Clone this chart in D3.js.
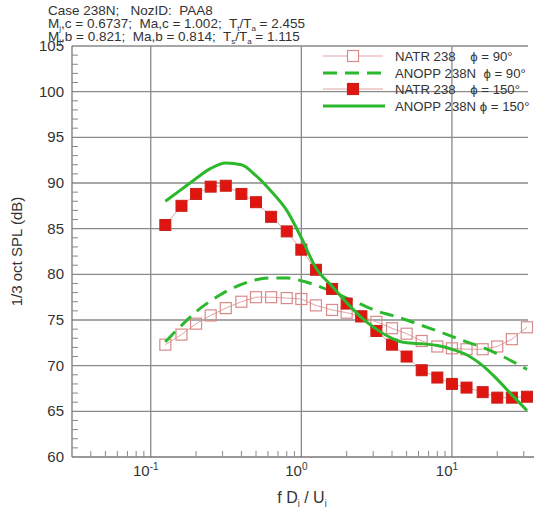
<!DOCTYPE html>
<html>
<head>
<meta charset="utf-8">
<script src="https://cdn.jsdelivr.net/npm/d3@7"></script>
<style>
  body { margin: 0; background: #fff; }
  text { font-family: "Liberation Sans", Arial, sans-serif; fill: #333; }
</style>
</head>
<body>
<div id="chart"></div>
<script>
var w = 539, h = 507;

// 1/3 octave band centres, f Dj / Uj
var freqs = [0.125, 0.16, 0.2, 0.25, 0.315, 0.4, 0.5, 0.63, 0.8, 1.0, 1.25, 1.6, 2.0,
             2.5, 3.15, 4, 5, 6.3, 8, 10, 12.5, 16, 20, 25, 31.5];
var natr90 = [72.3, 73.4, 74.6, 75.5, 76.3, 77.0, 77.5, 77.5, 77.4, 77.3, 76.6, 76.1, 75.8,
              75.4, 74.8, 74.1, 73.5, 72.7, 72.1, 71.9, 71.8, 71.8, 72.1, 72.9, 74.2];
var anopp90 = [72.6, 74.4, 75.9, 77.1, 78.1, 78.9, 79.4, 79.6, 79.6, 79.3, 78.8, 78.1, 77.4,
               76.7, 76.0, 75.5, 75.0, 74.4, 73.8, 73.2, 72.6, 72.0, 71.3, 70.5, 69.6];
var natr150 = [85.4, 87.5, 88.8, 89.6, 89.7, 88.8, 87.9, 86.3, 84.7, 82.7, 80.5, 78.4, 76.8,
               75.4, 73.8, 72.3, 71.0, 69.5, 68.7, 68.0, 67.6, 67.1, 66.5, 66.5, 66.6];
var anopp150 = [88.0, 89.3, 90.5, 91.6, 92.2, 92.0, 90.8, 89.1, 87.0, 84.0, 80.7, 78.7, 76.9,
                75.3, 74.0, 73.0, 72.5, 72.4, 72.2, 71.8, 71.2, 70.0, 68.5, 66.8, 65.1];

var yTicks = [60, 65, 70, 75, 80, 85, 90, 95, 100, 105];
var xDecades = [0.1, 1, 10];
var xDecadeExp = ["-1", "0", "1"];
var legendLabels = ["NATR 238    \u03d5 = 90\u00b0", "ANOPP 238N  \u03d5 = 90\u00b0",
                    "NATR 238    \u03d5 = 150\u00b0", "ANOPP 238N \u03d5 = 150\u00b0"];

var pLeft = 72, pRight = 528, pTop = 46, pBottom = 457;
var green = "#2cb82c", red = "#e0150f", pink = "#e3a3a3";

var x = d3.scaleLog().domain([0.03, 32]).range([pLeft, pRight]);
var y = d3.scaleLinear().domain([60, 105]).range([pBottom, pTop]);

var svg = d3.select("#chart").append("svg")
    .attr("width", w).attr("height", h);

// header
var hdr = svg.append("g").attr("font-size", 13.5);
hdr.append("text").attr("x", 48).attr("y", 15).attr("xml:space", "preserve").text("Case 238N;   NozID:  PAA8");
function subLine(yy, parts) {
  var t = hdr.append("text").attr("x", 48).attr("y", yy).attr("xml:space", "preserve");
  parts.forEach(function(p) {
    var s = t.append("tspan").text(p[0]);
    if (p[1]) s.attr("font-size", 8).attr("dy", 3);
    else s.attr("dy", p[2] || 0);
  });
}
subLine(28, [["M"], ["j", 1], [",c = 0.6737;  Ma,c = 1.002;  T", 0, -3], ["t", 1], ["/T", 0, -3], ["a", 1], [" = 2.455", 0, -3]]);
subLine(41, [["M"], ["j", 1], [",b = 0.821;  Ma,b = 0.814;  T", 0, -3], ["s", 1], ["/T", 0, -3], ["a", 1], [" = 1.115", 0, -3]]);

// grid
var grid = svg.append("g").attr("stroke", "#8a8a8a").attr("stroke-width", 1.3);
grid.selectAll("line.h").data(yTicks.slice(1)).enter().append("line")
    .attr("x1", pLeft).attr("x2", pRight)
    .attr("y1", function(d) { return y(d); }).attr("y2", function(d) { return y(d); });
grid.selectAll("line.v").data(xDecades).enter().append("line")
    .attr("y1", pTop).attr("y2", pBottom)
    .attr("x1", function(d) { return x(d); }).attr("x2", function(d) { return x(d); });

// axes lines
svg.append("line").attr("x1", pLeft).attr("x2", pLeft).attr("y1", pTop).attr("y2", pBottom)
    .attr("stroke", "#777").attr("stroke-width", 1.3);
svg.append("line").attr("x1", pLeft).attr("x2", pRight + 6).attr("y1", pBottom).attr("y2", pBottom)
    .attr("stroke", "#777").attr("stroke-width", 1.3);

// minor ticks
var yMinor = d3.range(61, 105).filter(function(d) { return d % 5 != 0; });
svg.append("g").selectAll("line").data(yMinor).enter().append("line")
    .attr("x1", pLeft).attr("x2", pLeft + 6)
    .attr("y1", function(d) { return y(d); }).attr("y2", function(d) { return y(d); })
    .attr("stroke", "#888");
var xMinor = [];
[0.01, 0.1, 1, 10].forEach(function(dec) {
  for (var k = 2; k <= 9; k++) { var v = k * dec; if (v > 0.03 && v < 32) xMinor.push(v); }
});
svg.append("g").selectAll("line").data(xMinor).enter().append("line")
    .attr("y1", pBottom).attr("y2", pBottom - 6)
    .attr("x1", function(d) { return x(d); }).attr("x2", function(d) { return x(d); })
    .attr("stroke", "#888");

// tick labels
svg.append("g").attr("font-size", 15).attr("text-anchor", "end")
  .selectAll("text").data(yTicks).enter().append("text")
    .attr("x", pLeft - 8).attr("y", function(d) { return y(d) + 5; })
    .text(function(d) { return d; });
var xl = svg.append("g").attr("font-size", 15).selectAll("text").data(xDecades).enter().append("text")
    .attr("x", function(d) { return x(d) - 5; }).attr("y", 476).attr("text-anchor", "middle");
xl.append("tspan").text("10");
xl.append("tspan").attr("font-size", 10).attr("dy", -6).text(function(d, i) { return xDecadeExp[i]; });

// axis titles
svg.append("text").attr("transform", "translate(22," + (pTop + pBottom) / 2 + ") rotate(-90)")
    .attr("text-anchor", "middle").attr("font-size", 15).text("1/3 oct SPL (dB)");
var xt = svg.append("text").attr("x", 302).attr("y", 503).attr("text-anchor", "middle").attr("font-size", 16);
xt.append("tspan").text("f D");
xt.append("tspan").attr("font-size", 9).attr("dy", 3).text("j");
xt.append("tspan").attr("dy", -3).text(" / U");
xt.append("tspan").attr("font-size", 9).attr("dy", 3).text("j");

// series
function pts(vals) { return vals.map(function(v, i) { return [freqs[i], v]; }); }
var line = d3.line().x(function(d) { return x(d[0]); }).y(function(d) { return y(d[1]); });
var curve = d3.line().curve(d3.curveMonotoneX)
    .x(function(d) { return x(d[0]); }).y(function(d) { return y(d[1]); });

svg.append("path").datum(pts(natr90)).attr("d", line)
    .attr("fill", "none").attr("stroke", pink).attr("stroke-width", 1);
svg.append("path").datum(pts(natr150)).attr("d", line)
    .attr("fill", "none").attr("stroke", pink).attr("stroke-width", 1);

var sq = 11;
svg.append("g").selectAll("rect").data(pts(natr90)).enter().append("rect")
    .attr("x", function(d) { return x(d[0]) - sq / 2; }).attr("y", function(d) { return y(d[1]) - sq / 2; })
    .attr("width", sq).attr("height", sq)
    .attr("fill", "none").attr("stroke", "#d98a8a").attr("stroke-width", 1.2);

svg.append("path").datum(pts(anopp90)).attr("d", curve)
    .attr("fill", "none").attr("stroke", green).attr("stroke-width", 3)
    .attr("stroke-dasharray", "14,8");

svg.append("g").selectAll("rect").data(pts(natr150)).enter().append("rect")
    .attr("x", function(d) { return x(d[0]) - sq / 2; }).attr("y", function(d) { return y(d[1]) - sq / 2; })
    .attr("width", sq).attr("height", sq)
    .attr("fill", red).attr("stroke", "#c8201a").attr("stroke-width", 1);

svg.append("path").datum(pts(anopp150)).attr("d", curve)
    .attr("fill", "none").attr("stroke", green).attr("stroke-width", 3);

// legend
var lg = svg.append("g");
var rowY = [56, 73, 89, 106];
legendLabels.forEach(function(lab, i) {
  var g = lg.append("g").attr("transform", "translate(0," + rowY[i] + ")");
  if (i == 0 || i == 2) {
    g.append("line").attr("x1", 323).attr("x2", 383).attr("stroke", pink).attr("stroke-width", 1);
    g.append("rect").attr("x", 353 - sq / 2).attr("y", -sq / 2).attr("width", sq).attr("height", sq)
      .attr("fill", i == 0 ? "#fff" : red).attr("stroke", i == 0 ? "#d98a8a" : "#c8201a").attr("stroke-width", 1.2);
  } else {
    g.append("line").attr("x1", 323).attr("x2", 385).attr("stroke", green).attr("stroke-width", 3)
      .attr("stroke-dasharray", i == 1 ? "14,8" : null);
  }
  g.append("text").attr("x", 395).attr("y", 5).attr("font-size", 13.2)
    .attr("xml:space", "preserve").text(lab);
});
</script>
</body>
</html>
